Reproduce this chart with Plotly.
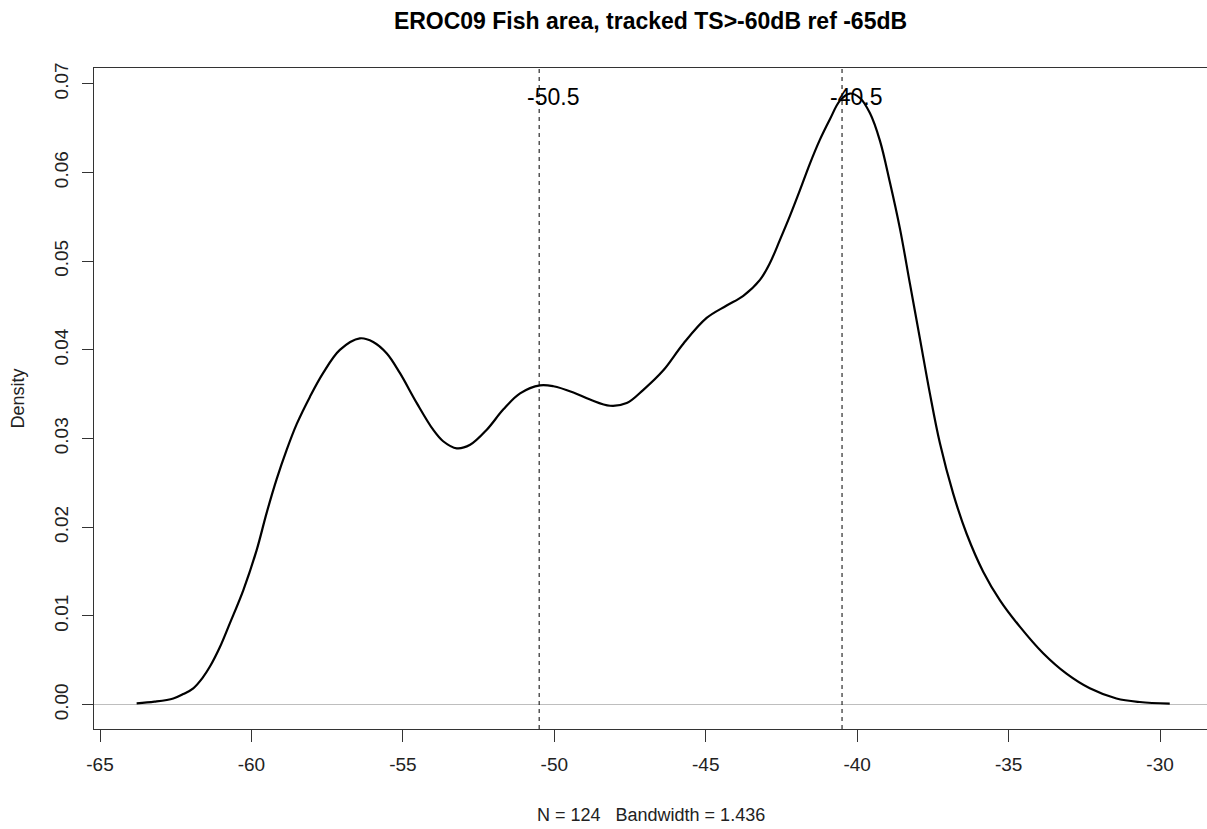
import plotly.graph_objects as go

# Density curve
ts_db = [-63.79, -63.20, -62.58, -62.25, -61.92, -61.62, -61.37, -61.04, -60.71, -60.27,
         -59.83, -59.50, -59.17,
         -58.84, -58.51, -58.07, -57.63, -57.08, -56.42, -55.98, -55.53, -55.10, -54.54,
         -54.00, -53.67, -53.22, -52.78, -52.23, -51.68, -51.13, -50.47, -50.03, -49.37,
         -48.82, -48.16, -47.61, -47.06, -46.40, -45.74, -44.97, -44.31, -43.76, -43.21,
         -42.88, -42.55, -42.22, -41.89, -41.56, -41.23, -40.90, -40.57, -40.24, -39.91,
         -39.58, -39.25, -38.92, -38.59, -38.26, -37.93, -37.60, -37.27, -36.83, -36.39,
         -35.84, -35.29, -34.63, -33.86, -33.09, -32.32, -31.44, -30.67, -29.68]
density = [0.00016, 0.00034, 0.0007, 0.0012, 0.00185, 0.0030, 0.0043, 0.0065, 0.0092, 0.0129,
           0.0174, 0.0216, 0.0254,
           0.0287, 0.0316, 0.0347, 0.0374, 0.0400, 0.0413, 0.0409, 0.0396, 0.0374, 0.0340,
           0.0310, 0.0297, 0.0289, 0.0293, 0.0310, 0.0333, 0.0351, 0.0360, 0.0359, 0.0352,
           0.0344, 0.0337, 0.0340, 0.0355, 0.0377, 0.0407, 0.0436, 0.0450, 0.0461, 0.0479,
           0.0498, 0.0524, 0.0551, 0.0580, 0.0610, 0.0637, 0.0660, 0.0681, 0.0689, 0.0684,
           0.0667, 0.0636, 0.0589, 0.0537, 0.0475, 0.0413, 0.0351, 0.0295, 0.0238, 0.0193,
           0.0150, 0.0118, 0.0088, 0.0058, 0.0035, 0.00185, 0.0007, 0.0003, 0.00012]

# Marked modes
mode_x = [-50.5, -40.5]
mode_labels = ["-50.5", "-40.5"]
label_y = 0.0685

x_ticks = [-65, -60, -55, -50, -45, -40, -35, -30]
y_ticks = [0.00, 0.01, 0.02, 0.03, 0.04, 0.05, 0.06, 0.07]
y_tick_text = ["0.00", "0.01", "0.02", "0.03", "0.04", "0.05", "0.06", "0.07"]

title_text = "EROC09 Fish area, tracked TS>-60dB ref -65dB"
sub_text = "N = 124   Bandwidth = 1.436"
y_title = "Density"

FONT = "Liberation Sans, Arial, sans-serif"
TXT = "#222222"

fig = go.Figure()
fig.add_trace(go.Scatter(x=ts_db, y=density, mode="lines",
                         line=dict(color="black", width=2.2, shape="spline", smoothing=1.0),
                         hoverinfo="skip", showlegend=False))

shapes = []
for mx in mode_x:
    shapes.append(dict(type="line", xref="x", yref="paper", x0=mx, x1=mx, y0=0, y1=1,
                       line=dict(color="black", width=1, dash="4px,4px")))

annotations = []
for mx, lab in zip(mode_x, mode_labels):
    annotations.append(dict(x=mx + 0.45, y=label_y, xref="x", yref="y", text=lab,
                            showarrow=False, xanchor="center", yanchor="middle",
                            font=dict(family=FONT, size=23, color="black")))
annotations.append(dict(x=0.5, y=-0.130, xref="paper", yref="paper", text=sub_text,
                        showarrow=False, xanchor="center", yanchor="middle",
                        font=dict(family=FONT, size=18, color=TXT)))
annotations.append(dict(x=-0.0683, y=0.5, xref="paper", yref="paper", text=y_title,
                        showarrow=False, xanchor="center", yanchor="middle", textangle=-90,
                        font=dict(family=FONT, size=18, color=TXT)))

fig.update_layout(
    width=1207, height=829,
    margin=dict(l=94, r=0, t=68, b=100),
    paper_bgcolor="white", plot_bgcolor="white",
    title=dict(text="<b>" + title_text + "</b>", x=0.5, xref="paper", xanchor="center",
               y=1 - 21 / 829, yref="container", yanchor="middle",
               font=dict(family=FONT, size=23, color="black")),
    shapes=shapes, annotations=annotations,
    showlegend=False,
    font=dict(family=FONT, color=TXT),
)
fig.update_xaxes(range=[-65.198, -28.45], tickvals=x_ticks, ticktext=[str(v) for v in x_ticks],
                 showgrid=False, zeroline=False, showline=True, mirror=True,
                 linecolor="#333333", linewidth=1.3, ticks="outside", ticklen=12,
                 tickcolor="#333333", tickwidth=1.3,
                 tickfont=dict(family=FONT, size=19, color=TXT), ticklabelstandoff=6)
fig.update_yaxes(range=[-0.00274, 0.07178], tickvals=y_ticks, ticktext=y_tick_text,
                 tickangle=-90, showgrid=False, zeroline=True, zerolinecolor="#bebebe",
                 zerolinewidth=1, showline=True, mirror=False,
                 linecolor="#333333", linewidth=1.3, ticks="outside", ticklen=11,
                 tickcolor="#333333", tickwidth=1.3,
                 tickfont=dict(family=FONT, size=19, color=TXT), ticklabelstandoff=6)

fig.write_html("out.html")
